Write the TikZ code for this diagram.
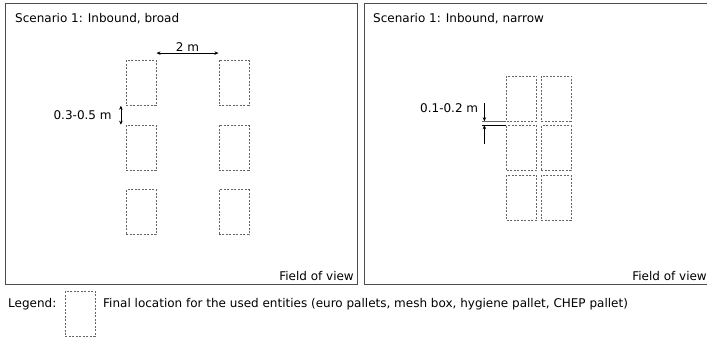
\documentclass[tikz,border=0pt]{standalone}
\usepackage{fontspec}
\setmainfont{DejaVu Sans}
\usetikzlibrary{matrix,positioning,calc,arrows.meta}

\tikzset{
	pallet/.style={draw=black!60, dash pattern=on 2pt off 1.5pt, line width=0.6pt,
		minimum width=30pt, minimum height=45pt, inner sep=0pt},
	panel/.style={draw=black!70, line width=0.9pt},
	lbl/.style={font=\fontsize{12}{14}\selectfont, inner sep=0pt},
	dimboth/.style={{Stealth[length=4pt,width=3.5pt]}-{Stealth[length=4pt,width=3.5pt]}, line width=0.6pt},
	dimtip/.style={-{Stealth[length=4pt,width=3.5pt]}, line width=0.6pt}
}

\begin{document}
\begin{tikzpicture}[x=1pt,y=-1pt]
	\useasboundingbox (0,0) rectangle (707,338);
	% fields of view
	\draw[panel] (5,3) rectangle (357,284);
	\draw[panel] (364,3) rectangle (712,284);
	\node[lbl, anchor=base west] (titleL) at (15,22) {Scenario 1: Inbound, broad};
	\node[lbl, anchor=base west] (titleR) at (373,22) {Scenario 1: Inbound, narrow};
	\node[lbl, anchor=base east] (fovL) at (354,280) {Field of view};
	\node[lbl, anchor=base east] (fovR) at (707,280) {Field of view};
	% broad layout
	\matrix (L) [matrix of nodes, nodes in empty cells, nodes={pallet},
		column sep=62pt, row sep=19pt] at (187.5,147.5)
	{
		& \\
		& \\
		& \\};
	\draw[dimboth] ($(L-1-1.north east)+(0,-7)$) -- node[lbl, above=1pt] {2 m} ($(L-1-2.north west)+(0,-7)$);
	\draw[dimboth] ($(L-1-1.south west)+(-5,0)$) -- node[lbl, left=9pt] {0.3-0.5 m} ($(L-2-1.north west)+(-5,0)$);
	% narrow layout
	\matrix (R) [matrix of nodes, nodes in empty cells, nodes={pallet},
		column sep=4pt, row sep=4pt] at (539,148)
	{
		& \\
		& \\
		& \\};
	\coordinate (gapT) at ($(R-1-1.south west)+(-24,0)$);
	\coordinate (gapB) at ($(R-2-1.north west)+(-24,0)$);
	\draw[line width=0.6pt, black!60] (R-1-1.south west) -- (gapT);
	\draw[line width=0.6pt] (R-2-1.north west) -- (gapB);
	\draw[dimtip] ($(gapT)+(2,-18)$) coordinate (arrT) -- ($(gapT)+(2,0)$);
	\draw[dimtip] ($(gapB)+(2,19)$) -- ($(gapB)+(2,0)$);
	\node[lbl, anchor=base east] (gapLbl) at ($(arrT)+(-6,9)$) {0.1-0.2 m};
	% legend
	\node[lbl, anchor=base west] (legend) at (8,307) {Legend:};
	\node[pallet, anchor=north west] (key) at (65,291) {};
	\node[lbl, anchor=base west] (keyText) at (103,307) {Final location for the used entities (euro pallets, mesh box, hygiene pallet, CHEP pallet)};
\end{tikzpicture}
\end{document}
